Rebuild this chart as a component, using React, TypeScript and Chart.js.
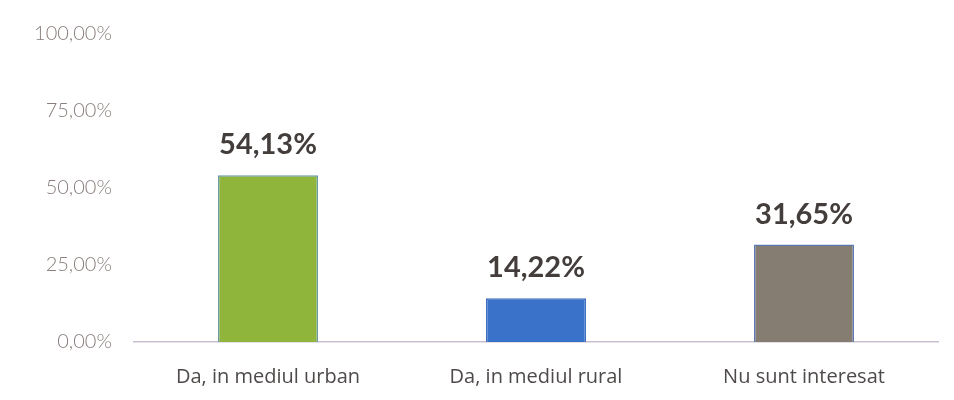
import React, { useEffect, useRef } from "react";
import { Chart, registerables } from "chart.js";

Chart.register(...registerables);

const categories = ["Da, in mediul urban", "Da, in mediul rural", "Nu sunt interesat"];
const values = [54.13, 14.22, 31.65];
const barColors = ["#8fb63a", "#3b72c9", "#857c72"];
const borderColors = ["#6a9aa0", "#3a6cc0", "#5a78b0"];
const yTicks = [0, 25, 50, 75, 100];

const fmt = (v: number) => v.toFixed(2).replace(".", ",") + "%";

const dataLabelPlugin = {
  id: "dataLabels",
  afterDatasetsDraw(chart: any) {
    const ctx = chart.ctx;
    const meta = chart.getDatasetMeta(0);
    ctx.save();
    ctx.font = "bold 29px Lato";
    ctx.fillStyle = "#433d3b";
    ctx.textAlign = "center";
    ctx.textBaseline = "alphabetic";
    meta.data.forEach((bar: any, i: number) => {
      ctx.fillText(fmt(values[i]), bar.x, bar.y - 21);
    });
    ctx.restore();
  },
};

export default function App() {
  const ref = useRef<HTMLCanvasElement>(null);
  useEffect(() => {
    document.body.style.margin = "0";
    const chart = new Chart(ref.current!, {
      type: "bar",
      data: {
        labels: categories,
        datasets: [
          {
            data: values,
            backgroundColor: barColors,
            borderColor: borderColors,
            borderWidth: 1.5,
            categoryPercentage: 1,
            barPercentage: 0.373,
          },
        ],
      },
      options: {
        animation: false,
        responsive: false,
        maintainAspectRatio: false,
        layout: { padding: { top: 26, right: 16, left: 0, bottom: 0 } },
        plugins: { legend: { display: false }, tooltip: { enabled: false } },
        scales: {
          x: {
            grid: { display: false, drawTicks: false },
            border: { display: true, color: "#cbbfd2", width: 1.5 },
            ticks: { color: "#4f4a4a", font: { family: "Open Sans", size: 20 }, padding: 23 },
            afterFit: (s: any) => {
              s.height = 58;
            },
          },
          y: {
            min: 0,
            max: 100,
            afterBuildTicks: (s: any) => {
              s.ticks = yTicks.map((v) => ({ value: v }));
            },
            grid: { display: false, drawTicks: false },
            border: { display: false },
            ticks: {
              color: "#8a7f7c",
              font: { family: "Lato", size: 20, weight: "300" },
              padding: 22,
              callback: (v: any) => fmt(Number(v)),
            },
            afterFit: (s: any) => {
              s.width = 134;
            },
          },
        },
      },
      plugins: [dataLabelPlugin],
    });
    return () => chart.destroy();
  }, []);
  return <canvas ref={ref} width={954} height={400} style={{ display: "block" }} />;
}
